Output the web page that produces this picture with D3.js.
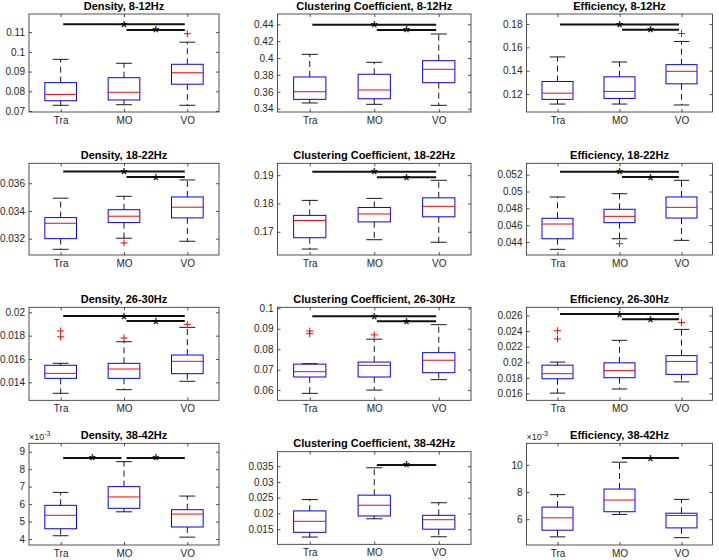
<!DOCTYPE html>
<html>
<head>
<meta charset="utf-8">
<script src="https://cdn.jsdelivr.net/npm/d3@7/dist/d3.min.js"></script>
<style>
  html, body { margin: 0; padding: 0; background: #fff; }
  svg { display: block; }
  text { font-family: "Liberation Sans", Arial, Helvetica, sans-serif; }
</style>
</head>
<body>
<script>
// ---------------- DATA ----------------
const categories = ["Tra", "MO", "VO"];
const titles = [
  "Density, 8-12Hz", "Clustering Coefficient, 8-12Hz", "Efficiency, 8-12Hz",
  "Density, 18-22Hz", "Clustering Coefficient, 18-22Hz", "Efficiency, 18-22Hz",
  "Density, 26-30Hz", "Clustering Coefficient, 26-30Hz", "Efficiency, 26-30Hz",
  "Density, 38-42Hz", "Clustering Coefficient, 38-42Hz", "Efficiency, 38-42Hz"
];

// Box statistics per group: [lower whisker, Q1, median, Q3, upper whisker]
const stats1 = [[0.0729, 0.0752, 0.0784, 0.0844, 0.0962], [0.0732, 0.0756, 0.0795, 0.0869, 0.0942], [0.0729, 0.0836, 0.0894, 0.0937, 0.1049]];
const stats2 = [[0.3468, 0.3511, 0.3601, 0.3776, 0.4044], [0.3452, 0.3518, 0.3622, 0.3808, 0.3950], [0.3440, 0.3708, 0.3867, 0.3969, 0.4285]];
const stats3 = [[0.1115, 0.1155, 0.1208, 0.1308, 0.1518], [0.1115, 0.1163, 0.1223, 0.1348, 0.1475], [0.1107, 0.1288, 0.1395, 0.1452, 0.1650]];
const stats4 = [[0.03123, 0.03200, 0.03311, 0.03352, 0.03492], [0.03203, 0.03316, 0.03362, 0.03409, 0.03506], [0.03181, 0.03350, 0.03427, 0.03501, 0.03624]];
const stats5 = [[0.1639, 0.1679, 0.1740, 0.1758, 0.1811], [0.1672, 0.1735, 0.1763, 0.1786, 0.1818], [0.1663, 0.1753, 0.1790, 0.1820, 0.1882]];
const stats6 = [[0.04313, 0.04439, 0.04614, 0.04682, 0.04935], [0.04439, 0.04630, 0.04705, 0.04789, 0.04974], [0.04420, 0.04685, 0.04812, 0.04935, 0.05133]];
const stats7 = [[0.01306, 0.01434, 0.01477, 0.01546, 0.01563], [0.01337, 0.01434, 0.01514, 0.01563, 0.01748], [0.01409, 0.01474, 0.01580, 0.01634, 0.01871]];
const stats8 = [[0.0584, 0.0664, 0.0690, 0.0727, 0.0729], [0.0600, 0.0664, 0.0721, 0.0737, 0.0849], [0.0651, 0.0685, 0.0746, 0.0783, 0.0920]];
const stats9 = [[0.01605, 0.01789, 0.01854, 0.01963, 0.02002], [0.01658, 0.01802, 0.01893, 0.01993, 0.02281], [0.01749, 0.01845, 0.02011, 0.02085, 0.02421]];
const stats10 = [[0.00419, 0.00459, 0.00536, 0.00593, 0.00667], [0.00556, 0.00576, 0.00641, 0.00700, 0.00843], [0.00411, 0.00469, 0.00543, 0.00568, 0.00646]];
const stats11 = [[0.0125, 0.0140, 0.0175, 0.0208, 0.0244], [0.0183, 0.0192, 0.0226, 0.0258, 0.0345], [0.0126, 0.0150, 0.0180, 0.0194, 0.0234]];
const stats12 = [[0.00470, 0.00519, 0.00610, 0.00689, 0.00781], [0.00635, 0.00655, 0.00741, 0.00822, 0.01020], [0.00464, 0.00536, 0.00627, 0.00644, 0.00746]];

// Outliers per group
const outliers1 = [[], [], [0.1092]];
const outliers2 = [[], [], []];
const outliers3 = [[], [], [0.1718]];
const outliers4 = [[], [0.03169], []];
const outliers5 = [[], [], []];
const outliers6 = [[], [0.0438], []];
const outliers7 = [[0.0184, 0.0179], [0.0178], [0.01897]];
const outliers8 = [[0.0889, 0.0876], [0.0870], []];
const outliers9 = [[0.02404, 0.02299], [], [0.02509]];
const outliers10 = [[], [], []];
const outliers11 = [[], [], []];
const outliers12 = [[], [], []];

// Significance brackets: [group a, group b, level]
const sig1 = [[1, 3, 0.1140], [2, 3, 0.1111]];
const sig2 = [[1, 3, 0.4395], [2, 3, 0.4333]];
const sig3 = [[1, 3, 0.1795], [2, 3, 0.1750]];
const sig4 = [[1, 3, 0.03684], [2, 3, 0.03645]];
const sig5 = [[1, 3, 0.1912], [2, 3, 0.1893]];
const sig6 = [[1, 3, 0.05235], [2, 3, 0.05172]];
const sig7 = [[1, 3, 0.01968], [2, 3, 0.01925]];
const sig8 = [[1, 3, 0.0961], [2, 3, 0.0937]];
const sig9 = [[1, 3, 0.02618], [2, 3, 0.02552]];
const sig10 = [[1, 2, 0.00864], [2, 3, 0.00864]];
const sig11 = [[2, 3, 0.0354]];
const sig12 = [[2, 3, 0.0105]];

// Y axis ranges
const yLim1 = [0.0695, 0.1192];
const yLim2 = [0.3361, 0.4522];
const yLim3 = [0.1047, 0.1885];
const yLim4 = [0.03082, 0.03744];
const yLim5 = [0.1618, 0.1942];
const yLim6 = [0.04246, 0.05335];
const yLim7 = [0.01246, 0.02043];
const yLim8 = [0.0550, 0.1005];
const yLim9 = [0.01513, 0.02704];
const yLim10 = [0.00366, 0.00948];
const yLim11 = [0.0102, 0.0396];
const yLim12 = [0.00410, 0.01159];

// Y ticks and labels
const yTicks1 = [0.07, 0.08, 0.09, 0.10, 0.11];
const yTickLabels1 = ["0.07", "0.08", "0.09", "0.1", "0.11"];
const yTicks2 = [0.34, 0.36, 0.38, 0.40, 0.42, 0.44];
const yTickLabels2 = ["0.34", "0.36", "0.38", "0.4", "0.42", "0.44"];
const yTicks3 = [0.12, 0.14, 0.16, 0.18];
const yTickLabels3 = ["0.12", "0.14", "0.16", "0.18"];
const yTicks4 = [0.032, 0.034, 0.036];
const yTickLabels4 = ["0.032", "0.034", "0.036"];
const yTicks5 = [0.17, 0.18, 0.19];
const yTickLabels5 = ["0.17", "0.18", "0.19"];
const yTicks6 = [0.044, 0.046, 0.048, 0.050, 0.052];
const yTickLabels6 = ["0.044", "0.046", "0.048", "0.05", "0.052"];
const yTicks7 = [0.014, 0.016, 0.018, 0.020];
const yTickLabels7 = ["0.014", "0.016", "0.018", "0.02"];
const yTicks8 = [0.06, 0.07, 0.08, 0.09, 0.10];
const yTickLabels8 = ["0.06", "0.07", "0.08", "0.09", "0.1"];
const yTicks9 = [0.016, 0.018, 0.020, 0.022, 0.024, 0.026];
const yTickLabels9 = ["0.016", "0.018", "0.02", "0.022", "0.024", "0.026"];
const yTicks10 = [0.004, 0.005, 0.006, 0.007, 0.008, 0.009];
const yTickLabels10 = ["4", "5", "6", "7", "8", "9"];
const yTicks11 = [0.015, 0.020, 0.025, 0.030, 0.035];
const yTickLabels11 = ["0.015", "0.02", "0.025", "0.03", "0.035"];
const yTicks12 = [0.006, 0.008, 0.010];
const yTickLabels12 = ["6", "8", "10"];

// Exponent labels (MATLAB style axis multiplier)
const exponents = ["", "", "", "", "", "", "", "", "", "-3", "", "-3"];

// ---------------- LAYOUT ----------------
const W = 719, H = 560;
const colX = [[29, 219], [277.5, 471], [526.5, 712.5]];
const rowY = [[14, 112], [163.3, 255], [307.3, 400.3], [443.3, 545]];
const rowYOverride = { 10: [451.7, 544.3] };

const panels = [
  [stats1, outliers1, sig1, yLim1, yTicks1, yTickLabels1],
  [stats2, outliers2, sig2, yLim2, yTicks2, yTickLabels2],
  [stats3, outliers3, sig3, yLim3, yTicks3, yTickLabels3],
  [stats4, outliers4, sig4, yLim4, yTicks4, yTickLabels4],
  [stats5, outliers5, sig5, yLim5, yTicks5, yTickLabels5],
  [stats6, outliers6, sig6, yLim6, yTicks6, yTickLabels6],
  [stats7, outliers7, sig7, yLim7, yTicks7, yTickLabels7],
  [stats8, outliers8, sig8, yLim8, yTicks8, yTickLabels8],
  [stats9, outliers9, sig9, yLim9, yTicks9, yTickLabels9],
  [stats10, outliers10, sig10, yLim10, yTicks10, yTickLabels10],
  [stats11, outliers11, sig11, yLim11, yTicks11, yTickLabels11],
  [stats12, outliers12, sig12, yLim12, yTicks12, yTickLabels12]
];

const svg = d3.select("body").append("svg").attr("width", W).attr("height", H);
svg.append("rect").attr("width", W).attr("height", H).attr("fill", "#fff");

const axisColor = "#262626";
const tickFont = 10;

panels.forEach((p, i) => {
  const [stats, outs, sigs, yLim, yTicks, yLabels] = p;
  const col = i % 3, row = Math.floor(i / 3);
  const [x0, x1] = colX[col];
  const [y0, y1] = rowYOverride[i] || rowY[row];

  const x = d3.scaleLinear().domain([0.5, 3.5]).range([x0, x1]);
  const y = d3.scaleLinear().domain(yLim).range([y1, y0]);
  const g = svg.append("g");

  const styleAxis = sel => {
    sel.select(".domain").remove();
    sel.selectAll("line").attr("stroke", axisColor).attr("stroke-width", 0.8);
    sel.selectAll("text").attr("fill", axisColor).attr("font-size", tickFont)
      .attr("font-family", "Liberation Sans, Arial, sans-serif");
  };
  g.append("g").attr("transform", `translate(${x0},0)`)
    .call(d3.axisLeft(y).tickValues(yTicks).tickFormat((d, k) => yLabels[k])
      .tickSizeInner(-3).tickSizeOuter(0).tickPadding(4))
    .call(styleAxis);
  g.append("g").attr("transform", `translate(${x1},0)`)
    .call(d3.axisRight(y).tickValues(yTicks).tickFormat("")
      .tickSizeInner(-3).tickSizeOuter(0))
    .call(styleAxis);
  g.append("g").attr("transform", `translate(0,${y1})`)
    .call(d3.axisBottom(x).tickValues([1, 2, 3]).tickFormat((d, k) => categories[k])
      .tickSizeInner(-3).tickSizeOuter(0).tickPadding(5))
    .call(styleAxis);
  g.append("g").attr("transform", `translate(0,${y0})`)
    .call(d3.axisTop(x).tickValues([1, 2, 3]).tickFormat("")
      .tickSizeInner(-3).tickSizeOuter(0))
    .call(styleAxis);
  g.append("rect").attr("x", x0).attr("y", y0)
    .attr("width", x1 - x0).attr("height", y1 - y0)
    .attr("fill", "none").attr("stroke", axisColor).attr("stroke-width", 0.8);

  const bw = x(1.25) - x(1);
  stats.forEach((s, k) => {
    const cx = x(k + 1);
    const [lo, q1, med, q3, hi] = s;
    g.append("line").attr("x1", cx).attr("x2", cx).attr("y1", y(q3)).attr("y2", y(hi))
      .attr("stroke", "#000").attr("stroke-width", 0.9).attr("stroke-dasharray", "6,4");
    g.append("line").attr("x1", cx).attr("x2", cx).attr("y1", y(q1)).attr("y2", y(lo))
      .attr("stroke", "#000").attr("stroke-width", 0.9).attr("stroke-dasharray", "6,4");
    [lo, hi].forEach(v => {
      g.append("line").attr("x1", cx - bw / 2).attr("x2", cx + bw / 2)
        .attr("y1", y(v)).attr("y2", y(v)).attr("stroke", "#000").attr("stroke-width", 0.9);
    });
    g.append("rect").attr("x", cx - bw).attr("y", y(q3))
      .attr("width", 2 * bw).attr("height", y(q1) - y(q3))
      .attr("fill", "none").attr("stroke", "#0000ff").attr("stroke-width", 1);
    g.append("line").attr("x1", cx - bw).attr("x2", cx + bw)
      .attr("y1", y(med)).attr("y2", y(med)).attr("stroke", "#ff0000").attr("stroke-width", 1);
    outs[k].forEach(v => {
      const oy = y(v);
      g.append("path").attr("d", `M${cx - 3.5},${oy}H${cx + 3.5}M${cx},${oy - 3.5}V${oy + 3.5}`)
        .attr("stroke", "#ff0000").attr("stroke-width", 1).attr("fill", "none");
    });
  });

  sigs.forEach(([a, b, lvl]) => {
    const xa = x(a + 0.04), xb = x(b - 0.04), ly = y(lvl);
    g.append("line").attr("x1", xa).attr("x2", xb).attr("y1", ly).attr("y2", ly)
      .attr("stroke", "#111").attr("stroke-width", 2);
    g.append("text").attr("x", (xa + xb) / 2).attr("y", ly + 9.5)
      .attr("text-anchor", "middle").attr("font-size", 18).attr("fill", "#000")
      .text("*");
  });

  g.append("text").attr("x", (x0 + x1) / 2).attr("y", y0 - 4.5)
    .attr("text-anchor", "middle").attr("font-size", 11).attr("font-weight", "bold")
    .attr("fill", "#000").text(titles[i]);

  if (exponents[i]) {
    const t = g.append("text").attr("x", x0).attr("y", y0 - 3)
      .attr("font-size", 9).attr("fill", axisColor);
    t.append("tspan").text("\u00d710");
    t.append("tspan").attr("dy", -4).attr("font-size", 7).text(exponents[i]);
  }
});
</script>
</body>
</html>
